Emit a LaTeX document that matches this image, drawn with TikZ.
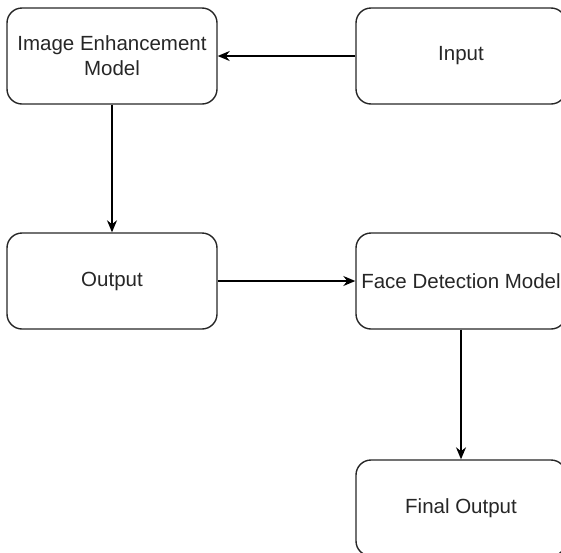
\documentclass[tikz,border=0pt]{standalone}
\usepackage{fontspec}
\setmainfont{Liberation Sans}
\usetikzlibrary{arrows.meta}
\begin{document}
\begin{tikzpicture}[x=1pt,y=-1pt,
  blk/.style={draw=black!85, line width=1.4pt, rounded corners=15pt,
    minimum width=210pt, minimum height=96pt, inner sep=0pt,
    align=center, font=\fontsize{20.5}{25}\selectfont, text=black!85},
  flow/.style={draw=black, line width=1.4pt, -{Stealth[length=12pt,width=10pt]}}]
\useasboundingbox (0,0) rectangle (561,552);
\node[blk] (enh)   at (112,56)  {Image Enhancement\\Model};
\node[blk] (inp)   at (461,56)  {Input};
\node[blk] (out)   at (112,281) {Output};
\node[blk] (face)  at (461,281) {Face Detection Model};
\node[blk] (final) at (461,508) {Final Output};
\draw[flow] (inp) -- (enh);
\draw[flow] (enh) -- (out);
\draw[flow] (out) -- (face);
\draw[flow] (face) -- (final);
\end{tikzpicture}
\end{document}
